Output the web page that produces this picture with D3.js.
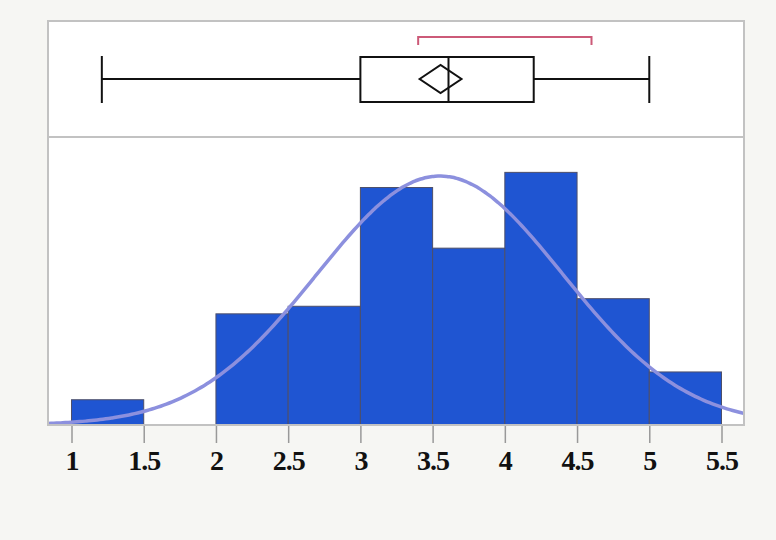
<!DOCTYPE html>
<html>
<head>
<meta charset="utf-8">
<script src="https://cdn.jsdelivr.net/npm/d3@7"></script>
<style>
  html, body { margin: 0; padding: 0; background: #f6f6f3; }
  svg { display: block; }
</style>
</head>
<body>
<svg id="chart" width="776" height="540"></svg>
<script>
// Histogram with outlier box plot and fitted normal (JMP-style distribution).

const binStarts = [1, 1.5, 2, 2.5, 3, 3.5, 4, 4.5, 5];
const binCounts = [1, 0, 4.4, 4.7, 9.4, 7, 10, 5, 2.1];
const binWidth = 0.5;

const tickValues = [1, 1.5, 2, 2.5, 3, 3.5, 4, 4.5, 5, 5.5];
const tickLabels = ["1", "1.5", "2", "2.5", "3", "3.5", "4", "4.5", "5", "5.5"];

// box plot summary
const whiskers = [1.21, 5.0];
const quartiles = [3.0, 4.2];
const median = 3.61;
const meanCI = [3.41, 3.70];
const meanValue = 3.555;
const shortestHalf = [3.4, 4.6];

// normal fit
const fitMean = 3.55;
const fitSd = 0.85;
const fitN = 42;

const frame = { left: 48, right: 744, top: 21, mid: 137, bottom: 425 };

const svg = d3.select("#chart");

const x = d3.scaleLinear()
  .domain([1, 5.5])
  .range([71.5, 721.5]);

const y = d3.scaleLinear()
  .domain([0, 11.4])
  .range([frame.bottom, frame.mid]);

// panels
svg.append("rect")
  .attr("x", frame.left).attr("y", frame.top)
  .attr("width", frame.right - frame.left)
  .attr("height", frame.bottom - frame.top)
  .attr("fill", "#fff");

svg.append("defs").append("clipPath").attr("id", "histClip")
  .append("rect")
  .attr("x", frame.left).attr("y", frame.mid)
  .attr("width", frame.right - frame.left)
  .attr("height", frame.bottom - frame.mid);

// bars
const bars = binStarts.map((s, i) => ({ x0: s, x1: s + binWidth, n: binCounts[i] }))
  .filter((d) => d.n > 0);

svg.append("g")
  .selectAll("rect")
  .data(bars)
  .join("rect")
  .attr("x", (d) => x(d.x0))
  .attr("y", (d) => y(d.n))
  .attr("width", (d) => x(d.x1) - x(d.x0))
  .attr("height", (d) => y(0) - y(d.n))
  .attr("fill", "#1f55d2")
  .attr("stroke", "#4d4f6a")
  .attr("stroke-width", 1);

// fitted normal curve
const pdf = (v) => Math.exp(-((v - fitMean) ** 2) / (2 * fitSd * fitSd)) / (fitSd * Math.sqrt(2 * Math.PI));
const xs = d3.range(x.invert(frame.left), x.invert(frame.right) + 0.01, 0.02);

svg.append("path")
  .datum(xs)
  .attr("clip-path", "url(#histClip)")
  .attr("fill", "none")
  .attr("stroke", "#8c90de")
  .attr("stroke-width", 3.5)
  .attr("stroke-linecap", "round")
  .attr("d", d3.line().curve(d3.curveBasis)
    .x((v) => x(v))
    .y((v) => y(fitN * binWidth * pdf(v))));

// box plot
const cy = 79;
const box = svg.append("g")
  .attr("stroke", "#111")
  .attr("stroke-width", 2)
  .attr("fill", "none");

box.append("line")
  .attr("x1", x(whiskers[0])).attr("x2", x(quartiles[0]))
  .attr("y1", cy).attr("y2", cy);
box.append("line")
  .attr("x1", x(quartiles[1])).attr("x2", x(whiskers[1]))
  .attr("y1", cy).attr("y2", cy);
for (const w of whiskers) {
  box.append("line")
    .attr("x1", x(w)).attr("x2", x(w))
    .attr("y1", 56).attr("y2", 103);
}
box.append("rect")
  .attr("x", x(quartiles[0])).attr("y", 57)
  .attr("width", x(quartiles[1]) - x(quartiles[0]))
  .attr("height", 45);
box.append("line")
  .attr("x1", x(median)).attr("x2", x(median))
  .attr("y1", 57).attr("y2", 102);
box.append("path")
  .attr("d", `M${x(meanCI[0])},${cy} L${x(meanValue)},${cy - 14} L${x(meanCI[1])},${cy} L${x(meanValue)},${cy + 14} Z`);

// shortest half bracket
svg.append("path")
  .attr("fill", "none")
  .attr("stroke", "#cc5a78")
  .attr("stroke-width", 2)
  .attr("d", `M${x(shortestHalf[0])},45 V37 H${x(shortestHalf[1])} V45`);

// frame lines
svg.append("rect")
  .attr("x", frame.left).attr("y", frame.top)
  .attr("width", frame.right - frame.left)
  .attr("height", frame.bottom - frame.top)
  .attr("fill", "none")
  .attr("stroke", "#c2c2c2")
  .attr("stroke-width", 2);
svg.append("line")
  .attr("x1", frame.left).attr("x2", frame.right)
  .attr("y1", frame.mid).attr("y2", frame.mid)
  .attr("stroke", "#c2c2c2")
  .attr("stroke-width", 2);

// axis
const axis = d3.axisBottom(x)
  .tickValues(tickValues)
  .tickFormat((d, i) => tickLabels[i])
  .tickSize(17)
  .tickPadding(7);

svg.append("g")
  .attr("transform", `translate(0,${frame.bottom + 1})`)
  .call(axis)
  .call((g) => g.select(".domain").remove())
  .call((g) => g.selectAll(".tick line").attr("stroke", "#999").attr("stroke-width", 1.5))
  .call((g) => g.selectAll(".tick text")
    .attr("fill", "#111")
    .attr("font-family", "'Liberation Serif', 'DejaVu Serif', serif")
    .attr("font-weight", "bold")
    .attr("font-size", 28)
    .attr("letter-spacing", -1));
</script>
</body>
</html>
